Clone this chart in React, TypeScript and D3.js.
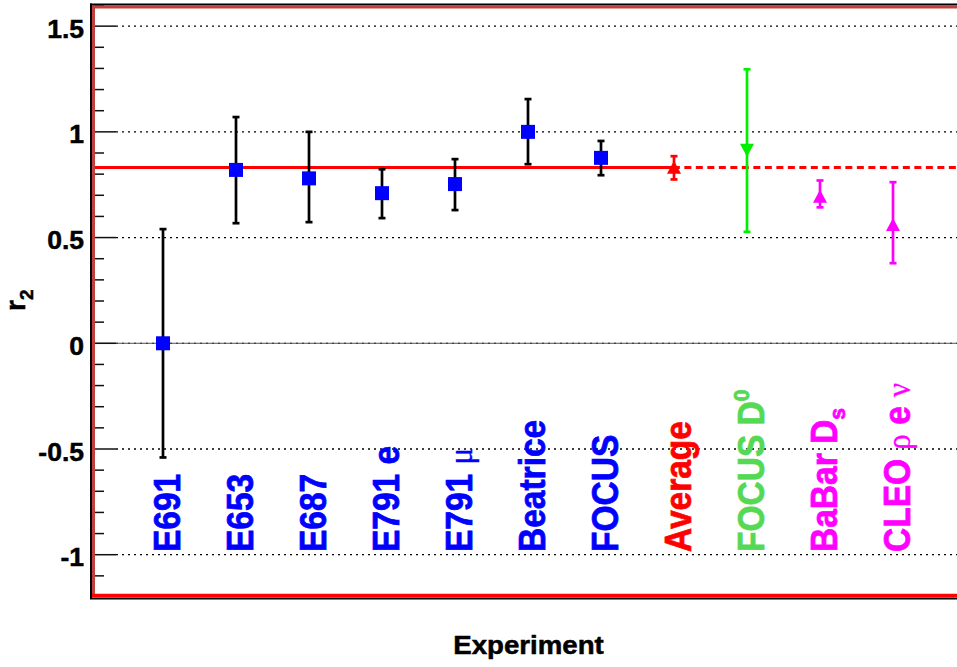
import React from "react";
import * as d3 from "d3";

const W = 957;
const H = 667;

const experiments = ["E691", "E653", "E687", "E791 e", "E791 μ", "Beatrice", "FOCUS", "Average", "FOCUS D^0", "BaBar D_s", "CLEO ρ e ν"];
const values = [0.0, 0.82, 0.78, 0.71, 0.753, 1.0, 0.877, 0.83, 0.913, 0.693, 0.559];
const errHigh = [0.54, 1.07, 1.0, 0.823, 0.871, 1.155, 0.957, 0.885, 1.296, 0.77, 0.762];
const errLow = [-0.54, 0.568, 0.573, 0.592, 0.63, 0.847, 0.795, 0.775, 0.527, 0.643, 0.379];
const markerShapes = ["square", "square", "square", "square", "square", "square", "square", "triUp", "triDown", "triUp", "triUp"];
const markerColors = ["#0000ff", "#0000ff", "#0000ff", "#0000ff", "#0000ff", "#0000ff", "#0000ff", "#ff0000", "#00ee00", "#ff00ff", "#ff00ff"];
const barColors = ["#000000", "#000000", "#000000", "#000000", "#000000", "#000000", "#000000", "#ff0000", "#00ee00", "#ff00ff", "#ff00ff"];
const labelColors = ["#0000ff", "#0000ff", "#0000ff", "#0000ff", "#0000ff", "#0000ff", "#0000ff", "#ff0000", "#55d955", "#ff00ff", "#ff00ff"];
const averageValue = 0.832;
const yMajorTicks = [-1, -0.5, 0, 0.5, 1, 1.5];
const yTickLabels = ["-1", "-0.5", "0", "0.5", "1", "1.5"];
const yTitle = ["r", "2"];
const xTitle = "Experiment";

const FONT = "'Liberation Sans', Arial, Helvetica, sans-serif";
const GREEK_FONT = "'Liberation Serif', 'DejaVu Serif', serif";

const x = d3.scaleLinear().domain([0, 12]).range([90, 966]);
const y = d3.scaleLinear().domain([-1.2, 1.6]).range([597, 5]);

const LEFT = 92;
const GREEK = new Set(["μ", "ρ", "ν"]);

type Seg = { t: string; kind: "normal" | "sup" | "sub" | "greek" };
function parseLabel(s: string): Seg[] {
  const out: Seg[] = [];
  for (let i = 0; i < s.length; i++) {
    const c = s[i];
    if (c === "^" && i + 1 < s.length) {
      out.push({ t: s[i + 1], kind: "sup" });
      i++;
    } else if (c === "_" && i + 1 < s.length) {
      out.push({ t: s[i + 1], kind: "sub" });
      i++;
    } else if (GREEK.has(c)) {
      out.push({ t: c, kind: "greek" });
    } else {
      const last = out[out.length - 1];
      if (last && last.kind === "normal") last.t += c;
      else out.push({ t: c, kind: "normal" });
    }
  }
  return out;
}

const LABEL_SIZE = 33.5;

function Label({ text, color, px }: { text: string; color: string; px: number }) {
  const segs = parseLabel(text);
  let shift = 0;
  const spans = segs.map((s, k) => {
    let dy = 0;
    let size = LABEL_SIZE;
    let weight: any = "bold";
    let family = FONT;
    let sw = 0.7;
    if (s.kind === "sup") {
      dy = -14 - shift;
      shift = -14;
      size = 21;
    } else if (s.kind === "sub") {
      dy = 7 - shift;
      shift = 7;
      size = 21;
    } else {
      dy = -shift;
      shift = 0;
      if (s.kind === "greek") {
        size = 31;
        weight = "normal";
        family = GREEK_FONT;
        sw = 0.3;
      }
    }
    return (
      <tspan key={k} dy={dy} fontSize={size} fontWeight={weight} fontFamily={family} strokeWidth={sw} style={{ whiteSpace: "pre" }}>
        {s.t}
      </tspan>
    );
  });
  return (
    <text
      transform={`translate(${px},552) scale(1.08,1) rotate(-90)`}
      fill={color}
      stroke={color}
      fontFamily={FONT}
      fontWeight="bold"
      fontSize={LABEL_SIZE}
      style={{ whiteSpace: "pre" }}
    >
      {spans}
    </text>
  );
}

function Marker({ shape, cx, cy, color }: { shape: string; cx: number; cy: number; color: string }) {
  if (shape === "square") {
    return <rect x={cx - 7} y={cy - 7} width={14} height={14} fill={color} />;
  }
  if (shape === "triUp") {
    const p = d3.path();
    p.moveTo(cx, cy - 7);
    p.lineTo(cx + 7, cy + 6);
    p.lineTo(cx - 7, cy + 6);
    p.closePath();
    return <path d={p.toString()} fill={color} />;
  }
  const p = d3.path();
  p.moveTo(cx - 7, cy - 6.5);
  p.lineTo(cx + 7, cy - 6.5);
  p.lineTo(cx, cy + 6.5);
  p.closePath();
  return <path d={p.toString()} fill={color} />;
}

export default function App() {
  const minorTicks = d3.range(-11, 17).map((i) => i / 10).filter((v) => Math.abs(v * 2 - Math.round(v * 2)) > 1e-6);
  const avgY = y(averageValue);
  const solidEnd = x(8.08);

  return (
    <svg width={W} height={H} style={{ position: "absolute", left: 0, top: 0, background: "#fff" }}>
      <rect x={0} y={0} width={W} height={H} fill="#ffffff" />

      {/* grid */}
      {yMajorTicks.map((v) => (
        <line key={"g" + v} x1={116} x2={W} y1={y(v)} y2={y(v)} stroke="#000" strokeWidth={1.3} strokeDasharray="2,4" />
      ))}
      <line x1={LEFT} x2={W} y1={y(0)} y2={y(0)} stroke="#555" strokeWidth={1} />

      {/* average line */}
      <line x1={LEFT} x2={solidEnd} y1={avgY} y2={avgY} stroke="#ff0000" strokeWidth={3} />
      <line x1={solidEnd} x2={W} y1={avgY} y2={avgY} stroke="#ff0000" strokeWidth={3} strokeDasharray="7,4.5" strokeDashoffset={-4.5} />

      {/* ticks */}
      {yMajorTicks.map((v) => (
        <line key={"M" + v} x1={LEFT} x2={116} y1={y(v)} y2={y(v)} stroke="#111" strokeWidth={1.5} />
      ))}
      {minorTicks.map((v) => (
        <line key={"m" + v} x1={LEFT} x2={104} y1={y(v)} y2={y(v)} stroke="#111" strokeWidth={1.5} />
      ))}

      {/* error bars + markers */}
      {values.map((v, i) => {
        const cx = x(i + 1);
        const col = barColors[i];
        return (
          <g key={"p" + i}>
            <line x1={cx} x2={cx} y1={y(errHigh[i])} y2={y(errLow[i])} stroke={col} strokeWidth={2.7} />
            <line x1={cx - 3.5} x2={cx + 3.5} y1={y(errHigh[i])} y2={y(errHigh[i])} stroke={col} strokeWidth={2.7} />
            <line x1={cx - 3.5} x2={cx + 3.5} y1={y(errLow[i])} y2={y(errLow[i])} stroke={col} strokeWidth={2.7} />
            <Marker shape={markerShapes[i]} cx={cx} cy={y(v)} color={markerColors[i]} />
          </g>
        );
      })}

      {/* labels */}
      {experiments.map((s, i) => (
        <Label key={"l" + i} text={s} color={labelColors[i]} px={x(i + 1) + 17} />
      ))}

      {/* frame */}
      <line x1={91} x2={91} y1={3.5} y2={599} stroke="#000" strokeWidth={2} />
      <line x1={90} x2={W} y1={4.5} y2={4.5} stroke="#000" strokeWidth={2} />
      <line x1={90} x2={W} y1={598.5} y2={598.5} stroke="#000" strokeWidth={2} />
      <line x1={93.5} x2={93.5} y1={5.5} y2={597} stroke="#c04040" strokeWidth={3} />
      <line x1={92} x2={W} y1={7} y2={7} stroke="#c04040" strokeWidth={3} />
      <line x1={92} x2={W} y1={595.5} y2={595.5} stroke="#ff0000" strokeWidth={3.5} />

      {/* y tick labels */}
      {yMajorTicks.map((v, i) => (
        <text key={"t" + v} x={84} y={y(v) + 11.5} textAnchor="end" fontFamily={FONT} fontWeight="bold" fontSize={26.5} fill="#000" stroke="#000" strokeWidth={0.5}>
          {yTickLabels[i]}
        </text>
      ))}

      {/* y title */}
      <text transform={`translate(25,311) rotate(-90)`} fontFamily={FONT} fontWeight="bold" fontSize={28} fill="#000" stroke="#000" strokeWidth={0.5}>
        <tspan>{yTitle[0]}</tspan>
        <tspan dy={8} fontSize={19}>{yTitle[1]}</tspan>
      </text>

      {/* x title */}
      <text transform={`translate(528.5,653.5) scale(1.085,1)`} textAnchor="middle" fontFamily={FONT} fontWeight="bold" fontSize={25.5} fill="#000" stroke="#000" strokeWidth={0.5}>
        {xTitle}
      </text>
    </svg>
  );
}
